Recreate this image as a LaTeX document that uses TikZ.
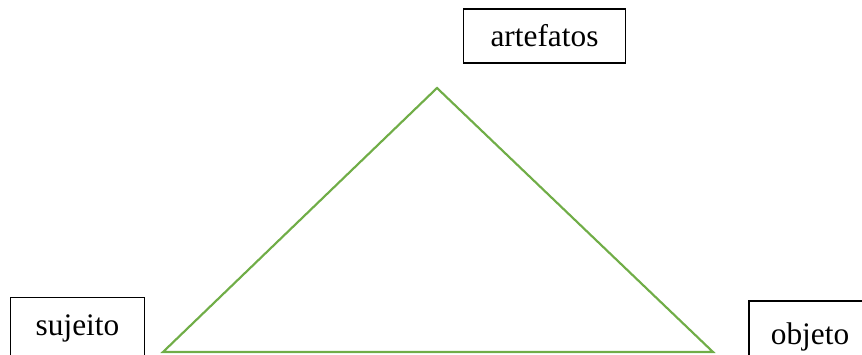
\documentclass[tikz,border=0pt]{standalone}
\usepackage{fontspec}
\setmainfont{Liberation Serif}
\usepackage{tikz}
\usetikzlibrary{positioning}
\definecolor{trigreen}{RGB}{112,173,71}

\begin{document}
\begin{tikzpicture}[
  x=0.75pt, y=-0.75pt,
  termo/.style={draw=black, line width=0.9pt, fill=white,
    font=\fontsize{23.5}{28}\selectfont, minimum height=40.5pt},
  lado/.style={draw=trigreen, line width=1.6pt, line join=miter},
  ]
  \clip (0,0) rectangle (862,354);
  \useasboundingbox (0,0) rectangle (862,354);

  % Vertices do triangulo
  \coordinate (topo) at (437,88);
  \coordinate (esq)  at (163,352);
  \coordinate (dir)  at (713,352);
  \draw[lado] (topo) -- (esq) -- (dir) -- cycle;

  % Termos
  \node[termo, minimum width=122pt] (artefatos) at (544.5,36) {artefatos};
  \node[termo, minimum width=100pt, minimum height=46pt] (sujeito) at (77.5,328.5) {sujeito};
  \node[termo, minimum width=91.5pt, minimum height=54pt] (objeto)  at (810,337) {objeto};
\end{tikzpicture}
\end{document}
